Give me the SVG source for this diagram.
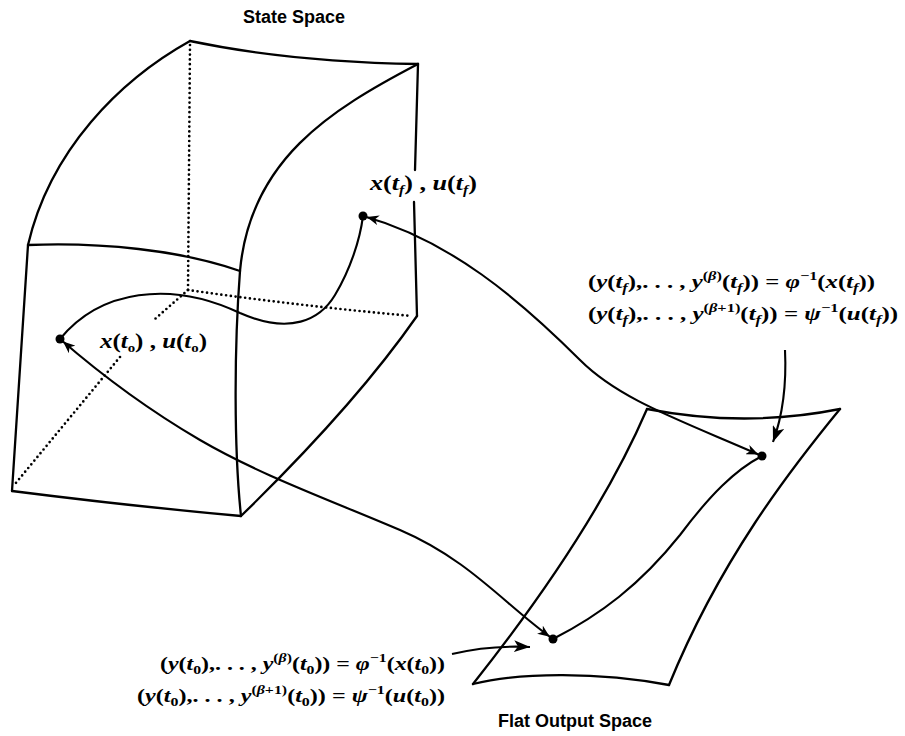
<svg xmlns="http://www.w3.org/2000/svg" width="905" height="736" viewBox="0 0 905 736">
<defs>
<style>
.ln{fill:none;stroke:#000;stroke-width:2.3;stroke-linecap:round;stroke-linejoin:round}
.dt{fill:none;stroke:#000;stroke-width:2.7;stroke-linecap:round;stroke-dasharray:0 4.8}
.cv{fill:none;stroke:#000;stroke-width:2.1}
.dot{fill:#000}
.ttl{font-family:"Liberation Sans",Arial,sans-serif;font-size:18px;font-weight:bold;fill:#000}
.m{font-family:"Liberation Serif","Times New Roman",serif;font-size:19px;font-weight:bold;fill:#000}
.lb{font-family:"Liberation Serif","Times New Roman",serif;font-size:21px;font-weight:bold;fill:#000}
.i{font-style:italic}
.s{font-size:12.5px}
</style>
<marker id="barb" markerUnits="userSpaceOnUse" markerWidth="18" markerHeight="10" refX="16" refY="5" orient="auto-start-reverse" viewBox="0 0 18 10">
<path d="M0,0 L12,5 L0,10 L3.5,5 z" fill="#000"/>
</marker>
<marker id="head" markerUnits="userSpaceOnUse" markerWidth="17" markerHeight="12" refX="16" refY="6" orient="auto" viewBox="0 0 17 12">
<path d="M0,0 L16,6 L0,12 L4,6 z" fill="#000"/>
</marker>
</defs>
<rect width="905" height="736" fill="#fff"/>

<g id="state-space">
<path class="ln" d="M190,41 Q290,62 418,64"/>
<path class="ln" d="M190,41 C120,80 50,150 28,245"/>
<path class="ln" d="M418,64 C330,110 250,160 240,271"/>
<path class="ln" d="M28,245 C100,242 180,250 240,271"/>
<path class="ln" d="M28,245 L12,491"/>
<path class="ln" d="M12,491 Q130,506 241,516"/>
<path class="ln" d="M240,271 C234,350 234,450 241,516"/>
<path class="ln" d="M418,64 L415,170"/>
<path class="ln" d="M414,202 L417,316"/>
<path class="ln" d="M417,316 Q355,405 241,516"/>
<path class="dt" d="M190,45 L188,290"/>
<path class="dt" d="M188,290 Q300,306 412,316"/>
<path class="dt" d="M188,290 L155,319"/>
<path class="dt" d="M120,357 L15,484"/>
<text class="ttl" x="294" y="23" text-anchor="middle">State Space</text>
</g>

<g id="flat-output-space">
<path class="ln" d="M647,409 Q745,428 840,409"/>
<path class="ln" d="M647,409 Q595,530 473,684"/>
<path class="ln" d="M840,409 C790,470 720,560 669,685"/>
<path class="ln" d="M473,684 C520,672 600,672 669,685"/>
<text class="ttl" x="575" y="727" text-anchor="middle">Flat Output Space</text>
</g>

<g id="connectors">
<path class="cv" d="M60,339 C100,290 170,280 240,313 C290,335 320,320 335,295 C350,270 360,240 363,216"/>
<path class="cv" d="M553,639 C600,615 640,585 680,535 C710,495 735,470 762,456"/>
<path class="cv" d="M363,216 C450,240 520,300 580,360 C620,400 680,420 762,456" marker-start="url(#barb)" marker-end="url(#barb)"/>
<path class="cv" d="M60,339 C90,365 140,405 200,440 S330,500 400,530 S505,605 553,639" marker-start="url(#barb)" marker-end="url(#barb)"/>
<path class="cv" d="M785,350 C787,392 781,420 773,442" marker-end="url(#head)"/>
<path class="cv" d="M452,654 Q490,645 530,647" marker-end="url(#head)"/>
</g>

<g id="point-xf">
<circle class="dot" cx="363" cy="216" r="4.5"/>
<text class="lb" x="370" y="190" textLength="107" lengthAdjust="spacingAndGlyphs"><tspan class="i">x</tspan>(<tspan class="i">t</tspan><tspan class="s i" dy="4">f</tspan><tspan dy="-4">) , </tspan><tspan class="i">u</tspan>(<tspan class="i">t</tspan><tspan class="s i" dy="4">f</tspan><tspan dy="-4">)</tspan></text>
</g>

<g id="point-x0">
<circle class="dot" cx="60" cy="339" r="4.5"/>
<text class="lb" x="100" y="348" textLength="107" lengthAdjust="spacingAndGlyphs"><tspan class="i">x</tspan>(<tspan class="i">t</tspan><tspan class="s" dy="4">o</tspan><tspan dy="-4">) , </tspan><tspan class="i">u</tspan>(<tspan class="i">t</tspan><tspan class="s" dy="4">o</tspan><tspan dy="-4">)</tspan></text>
</g>

<g id="point-yf">
<circle class="dot" cx="762" cy="456" r="4.5"/>
<text class="m" x="588" y="288" textLength="287" lengthAdjust="spacingAndGlyphs">(<tspan class="i">y</tspan>(<tspan class="i">t</tspan><tspan class="s i" dy="4">f</tspan><tspan dy="-4">),. . . , </tspan><tspan class="i">y</tspan><tspan class="s" dy="-8">(<tspan class="i">β</tspan>)</tspan><tspan dy="8">(</tspan><tspan class="i">t</tspan><tspan class="s i" dy="4">f</tspan><tspan dy="-4">)) = </tspan><tspan class="i">φ</tspan><tspan class="s" dy="-8">−1</tspan><tspan dy="8">(</tspan><tspan class="i">x</tspan>(<tspan class="i">t</tspan><tspan class="s i" dy="4">f</tspan><tspan dy="-4">))</tspan></text>
<text class="m" x="588" y="320" textLength="310" lengthAdjust="spacingAndGlyphs">(<tspan class="i">y</tspan>(<tspan class="i">t</tspan><tspan class="s i" dy="4">f</tspan><tspan dy="-4">),. . . , </tspan><tspan class="i">y</tspan><tspan class="s" dy="-8">(<tspan class="i">β</tspan>+1)</tspan><tspan dy="8">(</tspan><tspan class="i">t</tspan><tspan class="s i" dy="4">f</tspan><tspan dy="-4">)) = </tspan><tspan class="i">ψ</tspan><tspan class="s" dy="-8">−1</tspan><tspan dy="8">(</tspan><tspan class="i">u</tspan>(<tspan class="i">t</tspan><tspan class="s i" dy="4">f</tspan><tspan dy="-4">))</tspan></text>
</g>

<g id="point-y0">
<circle class="dot" cx="553" cy="639" r="4.5"/>
<text class="m" x="160" y="670" textLength="285" lengthAdjust="spacingAndGlyphs">(<tspan class="i">y</tspan>(<tspan class="i">t</tspan><tspan class="s" dy="4">0</tspan><tspan dy="-4">),. . . , </tspan><tspan class="i">y</tspan><tspan class="s" dy="-8">(<tspan class="i">β</tspan>)</tspan><tspan dy="8">(</tspan><tspan class="i">t</tspan><tspan class="s" dy="4">0</tspan><tspan dy="-4">)) = </tspan><tspan class="i">φ</tspan><tspan class="s" dy="-8">−1</tspan><tspan dy="8">(</tspan><tspan class="i">x</tspan>(<tspan class="i">t</tspan><tspan class="s" dy="4">0</tspan><tspan dy="-4">))</tspan></text>
<text class="m" x="137" y="702" textLength="308" lengthAdjust="spacingAndGlyphs">(<tspan class="i">y</tspan>(<tspan class="i">t</tspan><tspan class="s" dy="4">0</tspan><tspan dy="-4">),. . . , </tspan><tspan class="i">y</tspan><tspan class="s" dy="-8">(<tspan class="i">β</tspan>+1)</tspan><tspan dy="8">(</tspan><tspan class="i">t</tspan><tspan class="s" dy="4">0</tspan><tspan dy="-4">)) = </tspan><tspan class="i">ψ</tspan><tspan class="s" dy="-8">−1</tspan><tspan dy="8">(</tspan><tspan class="i">u</tspan>(<tspan class="i">t</tspan><tspan class="s" dy="4">0</tspan><tspan dy="-4">))</tspan></text>
</g>
</svg>
